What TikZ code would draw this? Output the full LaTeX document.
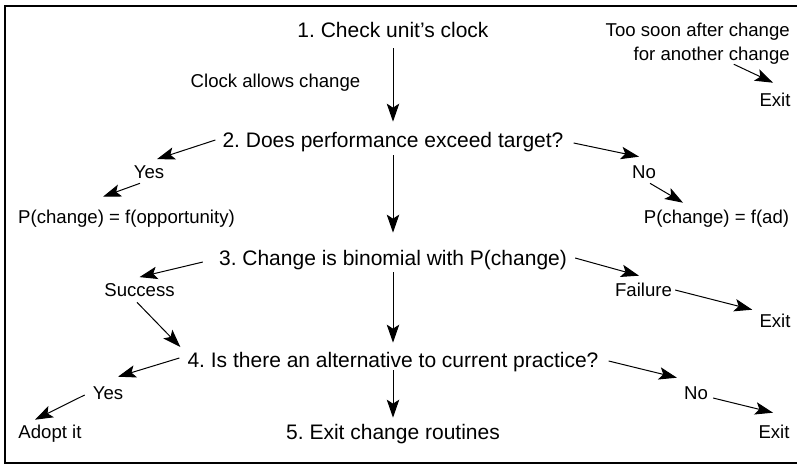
\documentclass[tikz,border=0pt]{standalone}
\usepackage{fontspec}
\setmainfont{Liberation Sans}
\usepackage{tikz}
\usetikzlibrary{arrows.meta}
\frenchspacing

\begin{document}
\begin{tikzpicture}[x=1pt, y=-1pt,
    stage/.style={inner sep=0pt, font=\fontsize{21}{25}\selectfont, text height=15.1pt, text depth=0pt},
    lbl/.style={inner sep=0pt, font=\fontsize{18.6}{24}\selectfont, text height=13.4pt, text depth=0pt},
    arr/.style={-{Stealth[length=18pt, width=12.5pt, inset=4pt]}, line width=1pt}]
  \useasboundingbox (0,0) rectangle (797,466);
  % Frame
  \draw[line width=1.2pt] (5,6) rectangle (800,463);

  % Stages of the routine
  \node[stage] (s1) at (393,30) {1. Check unit’s clock};
  \node[stage] (s2) at (393,140) {2. Does performance exceed target?};
  \node[stage] (s3) at (393,258) {3. Change is binomial with P(change)};
  \node[stage] (s4) at (393,360) {4. Is there an alternative to current practice?};
  \node[stage] (s5) at (393,432) {5. Exit change routines};

  % Branch labels
  \node[lbl] (clk) at (275.5,81) {Clock allows change};
  \node[lbl, align=right, anchor=north east, text height=, text depth=] (too) at (790,22.5) {Too soon after change\\for another change};
  \node[lbl] (ex1) at (775,100) {Exit};
  \node[lbl] (y1) at (149,172) {Yes};
  \node[lbl] (pop) at (126.5,217) {P(change) = f(opportunity)};
  \node[lbl] (n1) at (644,172) {No};
  \node[lbl] (pad) at (716.5,217) {P(change) = f(ad)};
  \node[lbl] (suc) at (139.5,290) {Success};
  \node[lbl] (fail) at (643.5,290) {Failure};
  \node[lbl] (ex2) at (775,321) {Exit};
  \node[lbl] (y2) at (108,393) {Yes};
  \node[lbl] (adopt) at (50,432) {Adopt it};
  \node[lbl] (n2) at (696,393) {No};
  \node[lbl] (ex3) at (774,432) {Exit};

  % Main flow
  \draw[arr, shorten <=10.6pt, shorten >=10.6pt] (s1.south) -- (s2.north);
  \draw[arr, shorten <=7.6pt, shorten >=17.6pt] (s2.south) -- (s3.north);
  \draw[arr, shorten <=6.6pt, shorten >=9.6pt] (s3.south) -- (s4.north);
  \draw[arr, shorten <=2.6pt, shorten >=6.6pt] (s4.south) -- (s5.north);

  % Side branches
  \draw[arr] ([xshift=36pt]too.south) -- ([xshift=-2pt, yshift=10.4pt]ex1.north);
  \draw[arr] ([xshift=-7pt]s2.west) -- ([xshift=8pt, yshift=6pt]y1.north);
  \draw[arr] ([xshift=-9pt, yshift=-4.4pt]y1.south) -- ([xshift=-23.5pt, yshift=13.4pt]pop.north);
  \draw[arr] ([xshift=10pt, yshift=-3pt]s2.east) -- ([xshift=-5pt, yshift=8.4pt]n1.north);
  \draw[arr] ([xshift=6pt, yshift=-4.4pt]n1.south) -- ([xshift=-33.5pt, yshift=7.4pt]pad.north);
  \draw[arr] ([xshift=-16pt, yshift=-4pt]s3.west) -- ([yshift=6pt]suc.north);
  \draw[arr] ([xshift=8pt]s3.east) -- ([xshift=-4.5pt, yshift=7.4pt]fail.north);
  \draw[arr] ([xshift=3pt]fail.east) -- ([xshift=-7pt, yshift=4.4pt]ex2.north west);
  \draw[arr] ([xshift=-2.5pt, yshift=-5.4pt]suc.south) -- ([xshift=-7pt, yshift=13pt]s4.west);
  \draw[arr] ([xshift=-8pt, yshift=2pt]s4.west) -- ([xshift=10pt, yshift=9.4pt]y2.north);
  \draw[arr] ([xshift=-8pt, yshift=-2pt]y2.west) -- ([xshift=-15pt, yshift=5.4pt]adopt.north);
  \draw[arr] ([xshift=10pt, yshift=-1pt]s4.east) -- ([xshift=-7pt, yshift=8.4pt]n2.north west);
  \draw[arr] ([xshift=5pt, yshift=-5pt]n2.east) -- ([xshift=-1pt, yshift=12.4pt]ex3.north);
\end{tikzpicture}
\end{document}
